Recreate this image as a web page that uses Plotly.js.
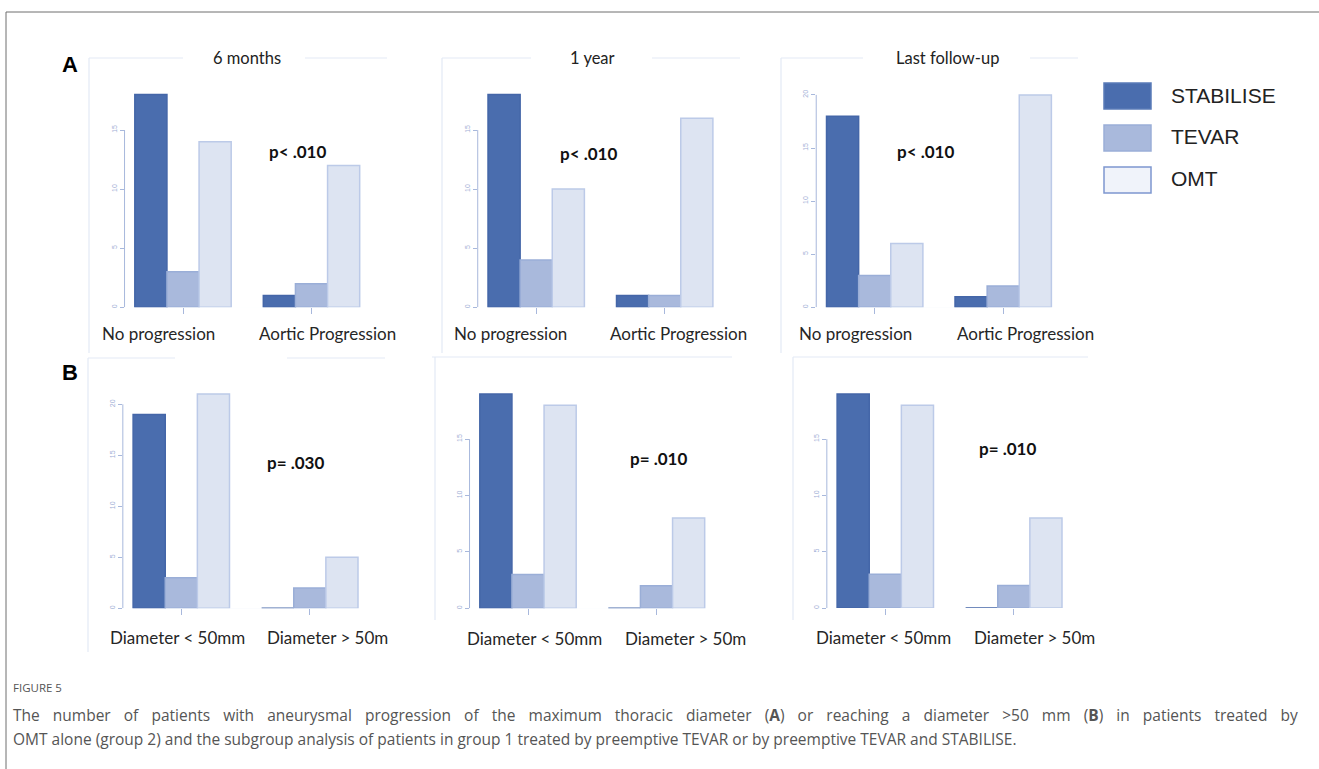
<!DOCTYPE html>
<html>
<head>
<meta charset="utf-8">
<script src="https://cdn.plot.ly/plotly-3.0.1.min.js"></script>
<style>
  html, body { margin: 0; padding: 0; background: #ffffff; }
  #chart { width: 1319px; height: 769px; }
</style>
</head>
<body>
<div id="chart"></div>
<script>
// ---------------- DATA ----------------
const categoriesA = ['No progression', 'Aortic Progression'];
const categoriesB = ['Diameter < 50mm', 'Diameter > 50m'];
const seriesNames = ['STABILISE', 'TEVAR', 'OMT'];
const panelTitlesA = ['6 months', '1 year', 'Last follow-up'];
const pValueLabels = ['p< .010', 'p< .010', 'p< .010', 'p= .030', 'p= .010', 'p= .010'];

// Row A: aneurysmal progression of max thoracic diameter
const stabilise6m = [18, 1];
const tevar6m = [3, 2];
const omt6m = [14, 12];

const stabilise1y = [18, 1];
const tevar1y = [4, 1];
const omt1y = [10, 16];

const stabiliseLast = [18, 1];
const tevarLast = [3, 2];
const omtLast = [6, 20];

// Row B: diameter < / > 50 mm
const stabiliseB6m = [19, 0];
const tevarB6m = [3, 2];
const omtB6m = [21, 5];

const stabiliseB1y = [19, 0];
const tevarB1y = [3, 2];
const omtB1y = [18, 8];

const stabiliseBLast = [19, 0];
const tevarBLast = [3, 2];
const omtBLast = [18, 8];

// y tick values per panel
const yTicksA6m = [0, 5, 10, 15];
const yTicksA1y = [0, 5, 10, 15];
const yTicksALast = [0, 5, 10, 15, 20];
const yTicksB6m = [0, 5, 10, 15, 20];
const yTicksB1y = [0, 5, 10, 15];
const yTicksBLast = [0, 5, 10, 15];

const captionLabel = 'FIGURE 5';
const captionLine1 = 'The number of patients with aneurysmal progression of the maximum thoracic diameter (<b>A</b>) or reaching a diameter >50 mm (<b>B</b>) in patients treated by';
const captionLine2 = 'OMT alone (group 2) and the subgroup analysis of patients in group 1 treated by preemptive TEVAR or by preemptive TEVAR and STABILISE.';

// ---------------- STYLE ----------------
const W = 1319, H = 769;
const fillColors = ['#4a6dae', '#a9b9dc', '#dde4f2'];
const lineColors = ['#4466a8', '#9aaed7', '#bccae8'];
const legendFill = ['#4a6dae', '#a9b9dc', '#f0f3fa'];
const legendLine = ['#5a7bb8', '#9aaed7', '#7d97cf'];
const axisColor = '#a8b8dc';
const frameColor = '#e3e9f5';
const labelFont = 'Lato, "Open Sans", sans-serif';

const fx = px => px / W;
const fy = py => 1 - py / H;

const panelData = [
  { cats: categoriesA, vals: [stabilise6m, tevar6m, omt6m], ticks: yTicksA6m },
  { cats: categoriesA, vals: [stabilise1y, tevar1y, omt1y], ticks: yTicksA1y },
  { cats: categoriesA, vals: [stabiliseLast, tevarLast, omtLast], ticks: yTicksALast },
  { cats: categoriesB, vals: [stabiliseB6m, tevarB6m, omtB6m], ticks: yTicksB6m },
  { cats: categoriesB, vals: [stabiliseB1y, tevarB1y, omtB1y], ticks: yTicksB1y },
  { cats: categoriesB, vals: [stabiliseBLast, tevarBLast, omtBLast], ticks: yTicksBLast }
];

// geometry (pixels): first group centre, baseline, px per unit, label centres, p-value position
const geom = [
  { c1: 183.0, base: 307.3, ppu: 11.82, lab: [[158, 333], [327, 333]], p: [297, 152] },
  { c1: 536.2, base: 307.3, ppu: 11.82, lab: [[510, 333], [679, 333]], p: [588, 153] },
  { c1: 874.7, base: 307.3, ppu: 10.62, lab: [[855, 333], [1025, 333]], p: [925, 152] },
  { c1: 181.3, base: 608.3, ppu: 10.2, lab: [[177, 637], [327, 637]], p: [295, 462] },
  { c1: 528.0, base: 608.3, ppu: 11.28, lab: [[534, 638], [685, 638]], p: [658, 458] },
  { c1: 885.3, base: 608.0, ppu: 11.26, lab: [[883, 637], [1034, 637]], p: [1007, 448] }
];
const S = 128.5;      // px per category
const RL = -0.455, RR = 1.445, YMAX = 22;

const traces = [];
const layout = {
  width: W, height: H,
  margin: { l: 0, r: 0, t: 0, b: 0 },
  paper_bgcolor: '#ffffff',
  plot_bgcolor: 'rgba(0,0,0,0)',
  showlegend: false,
  barmode: 'group',
  bargap: 0.25,
  bargroupgap: 0,
  annotations: [],
  shapes: []
};

panelData.forEach((pd, i) => {
  const sfx = i === 0 ? '' : String(i + 1);
  const g = geom[i];
  pd.vals.forEach((v, k) => {
    traces.push({
      type: 'bar',
      name: seriesNames[k],
      x: pd.cats,
      y: v,
      xaxis: 'x' + sfx,
      yaxis: 'y' + sfx,
      marker: { color: fillColors[k], line: { color: lineColors[k], width: 1.5 } },
      hoverinfo: 'skip'
    });
  });
  layout['xaxis' + sfx] = {
    domain: [fx(g.c1 + RL * S), fx(g.c1 + RR * S)],
    anchor: 'y' + sfx,
    type: 'category',
    categoryorder: 'array',
    categoryarray: pd.cats,
    range: [RL, RR],
    showgrid: false, zeroline: false, showline: false,
    ticks: 'outside', ticklen: 6, tickwidth: 1, tickcolor: axisColor,
    showticklabels: false,
    fixedrange: true
  };
  layout['yaxis' + sfx] = {
    domain: [fy(g.base), fy(g.base - YMAX * g.ppu)],
    anchor: 'x' + sfx,
    range: [0, YMAX],
    showgrid: false, zeroline: false, showline: false,
    tickmode: 'array', tickvals: pd.ticks,
    ticks: 'outside', ticklen: 4, tickwidth: 1, tickcolor: axisColor,
    tickangle: -90,
    tickfont: { family: 'Arial, sans-serif', size: 7, color: '#9fb0d6' },
    fixedrange: true
  };
  // y axis line from 0 to last tick (R style)
  layout.shapes.push({
    type: 'line', xref: 'x' + sfx + ' domain', yref: 'y' + sfx,
    x0: 0, x1: 0, y0: 0, y1: pd.ticks[pd.ticks.length - 1],
    line: { color: axisColor, width: 1 }
  });
  // x axis baseline between group centres
  layout.shapes.push({
    type: 'line', xref: 'x' + sfx, yref: 'y' + sfx, layer: 'below',
    x0: 0, x1: 1, y0: -0.1, y1: -0.1,
    line: { color: axisColor, width: 1 }
  });
  // category labels
  pd.cats.forEach((c, j) => {
    layout.annotations.push({
      xref: 'paper', yref: 'paper', x: fx(g.lab[j][0]), y: fy(g.lab[j][1]),
      xanchor: 'center', yanchor: 'middle', showarrow: false,
      text: c, font: { family: labelFont, size: 17, color: '#262626' }
    });
  });
  // p-value
  layout.annotations.push({
    xref: 'paper', yref: 'paper', x: fx(g.p[0]), y: fy(g.p[1]),
    xanchor: 'center', yanchor: 'middle', showarrow: false,
    text: '<b>' + pValueLabels[i] + '</b>',
    font: { family: labelFont, size: 17, color: '#111111' }
  });
});

// panel titles (row A)
const titlePos = [[247, 58], [592, 58], [947, 58]];
panelTitlesA.forEach((t, i) => {
  layout.annotations.push({
    xref: 'paper', yref: 'paper', x: fx(titlePos[i][0]), y: fy(titlePos[i][1]),
    xanchor: 'center', yanchor: 'middle', showarrow: false,
    text: t, font: { family: labelFont, size: 16.5, color: '#222222' }
  });
});

// panel letters
[['A', 70, 64], ['B', 70, 372]].forEach(l => {
  layout.annotations.push({
    xref: 'paper', yref: 'paper', x: fx(l[1]), y: fy(l[2]),
    xanchor: 'center', yanchor: 'middle', showarrow: false,
    text: '<b>' + l[0] + '</b>',
    font: { family: 'Liberation Sans, Arial, sans-serif', size: 22, color: '#000000' }
  });
});

// decorative panel frames
const frameSegs = [
  [89, 58, 183, 58], [305, 58, 387, 58], [89, 58, 89, 353],
  [442, 58, 531, 58], [652, 58, 740, 58], [442, 58, 442, 353],
  [781, 58, 863, 58], [1030, 58, 1078, 58], [781, 58, 781, 353],
  [88, 358, 175, 358], [287, 358, 385, 358], [88, 358, 88, 652],
  [432, 357, 732, 357], [435, 357, 435, 620],
  [793, 357, 1088, 357], [793, 357, 793, 620]
];
frameSegs.forEach(s => {
  layout.shapes.push({
    type: 'line', xref: 'paper', yref: 'paper',
    x0: fx(s[0]), y0: fy(s[1]), x1: fx(s[2]), y1: fy(s[3]),
    line: { color: frameColor, width: 1.2 }
  });
});

// outer border (top and left)
layout.shapes.push({ type: 'line', xref: 'paper', yref: 'paper',
  x0: fx(6), y0: fy(12), x1: 1, y1: fy(12), line: { color: '#6f6f6f', width: 1 } });
layout.shapes.push({ type: 'line', xref: 'paper', yref: 'paper',
  x0: fx(6), y0: fy(12), x1: fx(6), y1: 0, line: { color: '#6f6f6f', width: 1 } });

// manual legend
const legTop = [83, 125, 167];
seriesNames.forEach((n, k) => {
  layout.shapes.push({
    type: 'rect', xref: 'paper', yref: 'paper',
    x0: fx(1104), x1: fx(1151), y0: fy(legTop[k]), y1: fy(legTop[k] + 26),
    fillcolor: legendFill[k], line: { color: legendLine[k], width: 1.5 }
  });
  layout.annotations.push({
    xref: 'paper', yref: 'paper', x: fx(1169), y: fy(legTop[k] + 12),
    xanchor: 'left', yanchor: 'middle', showarrow: false,
    text: n, font: { family: 'Liberation Sans, Arial, sans-serif', size: 21, color: '#222222' }
  });
});

// caption
layout.annotations.push({
  xref: 'paper', yref: 'paper', x: fx(11), y: fy(687),
  xanchor: 'left', yanchor: 'middle', showarrow: false,
  text: captionLabel, font: { family: '"Open Sans", sans-serif', size: 11.5, color: '#555555' }
});
layout.annotations.push({
  xref: 'paper', yref: 'paper', x: fx(11), y: fy(715),
  xanchor: 'left', yanchor: 'middle', showarrow: false,
  text: captionLine1,
  font: { family: '"Open Sans", sans-serif', size: 15.5, color: '#555555' }
});
layout.annotations.push({
  xref: 'paper', yref: 'paper', x: fx(11), y: fy(739),
  xanchor: 'left', yanchor: 'middle', showarrow: false,
  text: captionLine2,
  font: { family: '"Open Sans", sans-serif', size: 15.5, color: '#555555' }
});

Plotly.newPlot('chart', traces, layout, { staticPlot: true, displayModeBar: false }).then(gd => {
  // justify the first caption line (a justified paragraph in the reference)
  const texts = gd.querySelectorAll('.annotation-text');
  texts.forEach(t => {
    if (t.textContent.indexOf('The number of patients') === 0) {
      const bb = t.getBBox();
      const natural = bb.width;
      const left = bb.x;
      const target = 1296 - 11;
      const gaps = (t.textContent.match(/ /g) || []).length;
      if (gaps > 0 && natural < target) {
        t.style.wordSpacing = ((target - natural) / gaps).toFixed(2) + 'px';
        t.setAttribute('text-anchor', 'start');
        t.setAttribute('x', left.toFixed(2));
        t.querySelectorAll('tspan[x]').forEach(ts => ts.setAttribute('x', left.toFixed(2)));
      }
    }
  });
});
</script>
</body>
</html>
